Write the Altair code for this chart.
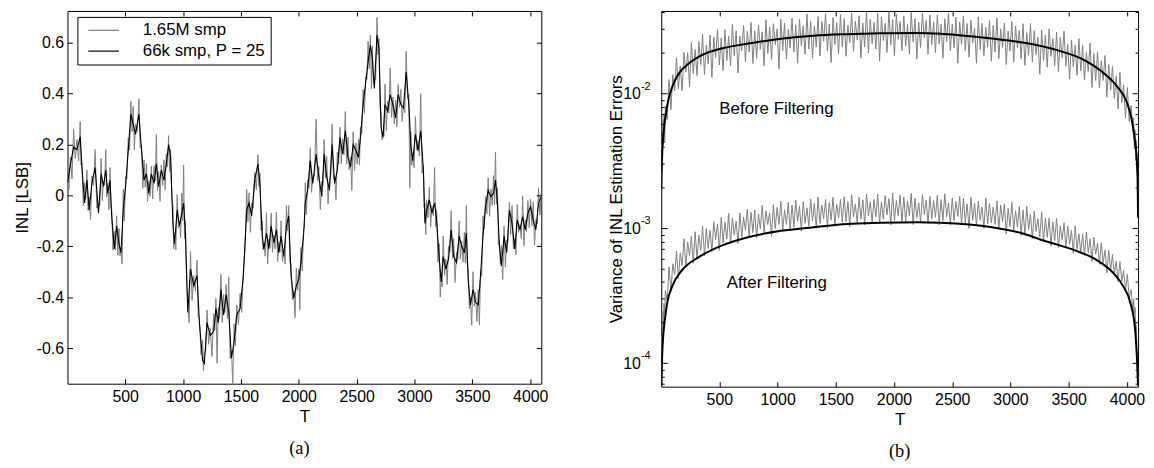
import altair as alt
import pandas as pd

FONT = "Liberation Sans"
SERIF = "Liberation Serif"
GRAY = "#808080"

# ---------------- Panel (a): INL vs T ----------------
LBL_GRAY = "1.65M smp"
LBL_BLACK = "66k smp, P = 25"

t_black_a = [1, 26, 54, 83, 111, 126, 149, 169, 189, 212,
             240, 269, 292, 312, 332, 349, 369, 383, 406, 426,
             446, 463, 483, 503, 526, 549, 569, 589, 618, 641,
             663, 683, 703, 726, 749, 769, 789, 812, 835, 855,
             875, 892, 912, 926, 949, 969, 989, 1005, 1020, 1041,
             1064, 1092, 1121, 1141, 1169, 1184, 1207, 1235, 1264, 1284,
             1304, 1327, 1350, 1372, 1395, 1418, 1441, 1464, 1493, 1521,
             1550, 1570, 1593, 1619, 1647, 1664, 1684, 1698, 1721, 1741,
             1761, 1784, 1807, 1827, 1847, 1870, 1893, 1913, 1933, 1956,
             1979, 1999, 2018, 2042, 2056, 2076, 2099, 2121, 2150, 2173,
             2199, 2219, 2241, 2265, 2288, 2310, 2333, 2356, 2379, 2402,
             2425, 2447, 2470, 2494, 2516, 2533, 2556, 2579, 2599, 2619,
             2636, 2653, 2676, 2693, 2711, 2728, 2745, 2768, 2790, 2814,
             2837, 2859, 2882, 2905, 2928, 2951, 2968, 2985, 3008, 3031,
             3054, 3077, 3090, 3105, 3128, 3151, 3174, 3191, 3214, 3231,
             3248, 3271, 3294, 3317, 3339, 3363, 3386, 3408, 3431, 3448,
             3465, 3483, 3506, 3528, 3551, 3571, 3592, 3614, 3637, 3660,
             3683, 3700, 3717, 3734, 3751, 3774, 3797, 3820, 3843, 3866,
             3888, 3911, 3935, 3957, 3980, 4003, 4026, 4049, 4072, 4096]

inl_black_a = [.05, .12, .19, .18, .23, .11, -.03, .06, -.057, .047,
               .11, -.07, .085, .035, .10, .008, .06, -.08, -.21, -.12,
               -.19, -.225, -.057, .034, .176, .32, .28, .24, .32, .176,
               .06, .085, .008, .085, .047, .124, .034, .10, .06, .124,
               .20, .15, -.11, -.19, -.057, -.12, -.07, -.03, -.15, -.46,
               -.29, -.355, -.315, -.50, -.65, -.66, -.50, -.55, -.535, -.445,
               -.50, -.37, -.47, -.39, -.46, -.64, -.575, -.47, -.445, -.315,
               -.057, -.03, -.08, .06, .124, .047, -.16, -.21, -.148, -.21,
               -.12, -.186, -.135, -.225, -.16, -.24, -.12, -.08, -.315, -.405,
               -.355, -.33, -.264, -.15, -.03, .02, .137, .047, .163, .074,
               -.004, .163, .074, .02, .20, .047, .10, .228, .163, .254,
               .15, .111, .20, .176, .15, .228, .357, .448, .525, .59,
               .538, .42, .63, .577, .267, .228, .357, .331, .396, .357,
               .305, .396, .357, .344, .486, .357, .20, .137, .24, .176,
               .254, .10, -.11, -.057, -.018, -.07, -.03, -.096, -.25, -.34,
               -.24, -.29, -.25, -.135, -.24, -.264, -.16, -.20, -.225, -.148,
               -.34, -.43, -.37, -.42, -.43, -.315, -.16, -.044, .02, -.005,
               .008, .06, -.03, -.20, -.277, -.16, -.225, -.057, -.11, -.21,
               -.096, -.135, -.083, -.135, -.07, -.044, -.096, -.135, -.03, -.005]

# gray trace, read at the black sample positions ...
inl_gray_at_a = [.10, .15, .26, .22, .29, .13, .05, .10, -.007, .077,
                 .18, -.03, .145, .055, .18, .048, .11, -.05, -.14, -.08,
                 -.13, -.205, .023, .074, .226, .37, .35, .28, .38, .196,
                 .14, .125, .058, .115, .117, .24, .094, .12, .14, .164,
                 .235, .18, -.04, -.15, .003, -.10, .01, .12, -.10, -.43,
                 -.22, -.315, -.255, -.48, -.57, -.62, -.45, -.52, -.465, -.405,
                 -.44, -.31, -.39, -.35, -.32, -.61, -.505, -.43, -.385, -.295,
                 .023, .01, -.03, .09, .16, .087, -.10, -.19, -.068, -.17,
                 -.07, -.156, -.065, -.185, -.10, -.22, -.04, -.04, -.265, -.375,
                 -.285, -.29, -.204, -.13, .05, .06, .187, .077, .30, .114,
                 .056, .22, .154, .06, .28, .077, .17, .268, .223, .33,
                 .23, .151, .25, .206, .22, .268, .417, .468, .605, .63,
                 .588, .45, .70, .617, .327, .248, .437, .371, .50, .387,
                 .375, .436, .417, .364, .566, .397, .25, .167, .31, .216,
                 .40, .12, -.03, -.017, .032, -.04, .11, -.056, -.19, -.32,
                 -.16, -.25, -.20, -.06, -.17, -.224, -.10, -.18, -.145, -.04,
                 -.29, -.40, -.30, -.38, -.37, -.295, -.08, -.004, .07, .025,
                 .078, .17, .03, -.18, -.197, -.12, -.175, -.027, -.04, -.17,
                 -.036, -.115, -.003, -.095, -.02, -.014, -.026, -.095, .03, .015]

# ... and half-way between consecutive black samples
inl_gray_mid_a = [.025, .065, .145, .135, .12, -.04, -.015, -.06, -.095, .04,
                  -.05, -.04, -.02, .04, -.006, -.056, -.05, -.215, -.215, -.235,
                  -.2375, -.27, -.10, .065, .178, .25, .18, .25, .188, .028,
                  .0325, -.0235, -.0035, -.014, .0555, .019, -.023, .04, .022, .112,
                  .095, -.01, -.21, -.2135, -.1285, -.165, -.10, -.17, -.335, -.50,
                  -.4125, -.375, -.4775, -.625, -.69, -.61, -.585, -.6325, -.53, -.66,
                  -.485, -.50, -.46, -.485, -.64, -.74, -.5925, -.5075, -.46, -.216,
                  -.1035, -.145, -.05, .022, .0355, -.1365, -.215, -.239, -.269, -.205,
                  -.223, -.2105, -.26, -.2225, -.26, -.27, -.14, -.2675, -.41, -.48,
                  -.3725, -.45, -.297, -.13, -.075, .0285, .012, .075, .0585, -.055,
                  .0395, .0685, -.033, .08, .0635, -.0165, .124, .1255, .1585, .122,
                  .1005, .02, .098, .123, .119, .2425, .3225, .4565, .4975, .42,
                  .439, .455, .5535, .342, .2175, .2325, .254, .3235, .3065, .281,
                  .2705, .3465, .2905, .325, .3815, .03, .1185, .1085, .178, .155,
                  .087, -.045, -.1535, -.0875, -.124, -.08, -.123, -.263, -.40, -.36,
                  -.315, -.35, -.2225, -.2475, -.342, -.252, -.25, -.2625, -.2665, -.274,
                  -.445, -.51, -.435, -.495, -.51, -.3175, -.132, -.072, -.0825, -.0385,
                  -.036, -.035, -.195, -.2685, -.33, -.2825, -.181, -.1535, -.21, -.233,
                  -.1455, -.169, -.199, -.1425, -.127, -.12, -.1955, -.1125, -.0775]

x_ticks = [500, 1000, 1500, 2000, 2500, 3000, 3500, 4000]
y_ticks_a = [-0.6, -0.4, -0.2, 0.0, 0.2, 0.4, 0.6]

# ---------------- Panel (b): variance (log scale) ----------------
t_upper_black = [1, 4, 8, 12, 16, 25, 40, 60, 95, 150, 240, 350, 520, 750, 1030,
                 1310, 1600, 1880, 2190, 2400, 2560, 2840, 3120, 3400, 3630, 3800,
                 3915, 4000, 4040, 4070, 4085, 4092, 4096]
var_upper_black_e3 = [2.0, 2.8, 3.5, 4.1, 4.6, 5.6, 7.0, 8.8, 11.2, 14.0, 16.8, 19.3,
                      21.6, 23.5, 25.5, 26.9, 27.6, 28.0, 28.2, 27.8, 27.1, 25.6, 23.8,
                      21.0, 17.8, 14.2, 11.3, 8.6, 6.5, 4.4, 3.2, 2.3, 1.2]

t_lower_black = [1, 4, 8, 18, 32, 52, 94, 180, 320, 520, 745, 1030, 1310, 1600,
                 1880, 2200, 2400, 2840, 3120, 3290, 3550, 3745, 3890, 3970, 4030,
                 4070, 4086, 4096]
var_lower_black_e4 = [0.68, 0.85, 1.1, 1.6, 2.1, 2.8, 3.7, 4.9, 6.1, 7.45, 8.6, 9.6,
                      10.2, 10.8, 11.0, 11.1, 11.0, 10.2, 9.1, 8.1, 6.9, 5.8, 4.6,
                      3.7, 2.8, 1.8, 1.1, 0.68]

# sample index grid of the two noisy (gray) traces
t_gray_b = ([1, 4, 8, 12, 16, 20, 25, 30] + list(range(36, 4060, 16))
            + [4058, 4064, 4070, 4076, 4081, 4085, 4089, 4092, 4094, 4096])

var_upper_gray_e3 = [
    2.6, 2.1, 4.2, 2.7, 6.4, 4.2, 7.1, 4.3,
    8.1, 6.4, 12.7, 7.6, 13.8, 10.5, 18.5, 10.8, 16.0, 10.5, 20.2, 14.4, 20.1, 11.2, 23.9, 14.1,
    21.2, 13.6, 24.3, 16.4, 27.5, 13.8, 22.9, 16.6, 27.1, 13.2, 26.2, 18.5, 29.7, 16.3, 25.9, 14.8,
    29.8, 17.6, 26.6, 16.1, 32.6, 19.1, 29.2, 14.2, 26.7, 20.8, 32.0, 17.2, 29.0, 20.3, 33.7, 16.7,
    29.2, 18.2, 32.3, 21.3, 28.7, 16.1, 35.3, 19.8, 31.2, 17.9, 33.0, 23.1, 30.2, 15.2, 35.6, 20.9,
    33.3, 18.0, 29.9, 21.7, 36.3, 20.3, 32.4, 16.8, 35.8, 22.7, 31.8, 19.6, 38.8, 21.4, 34.3, 18.3,
    31.7, 22.1, 37.3, 19.0, 34.2, 24.5, 39.2, 20.7, 32.8, 17.0, 36.8, 23.1, 33.6, 19.8, 38.6, 22.1,
    36.1, 18.9, 32.2, 23.9, 39.5, 20.6, 34.5, 25.0, 37.8, 18.3, 33.4, 22.2, 40.6, 20.0, 35.6, 23.4,
    33.7, 21.4, 39.3, 17.4, 37.1, 24.7, 33.2, 20.2, 40.5, 23.0, 35.4, 19.1, 38.8, 25.3, 34.3, 20.8,
    37.7, 22.5, 32.7, 19.7, 40.0, 24.2, 36.0, 18.0, 33.8, 22.0, 39.4, 25.9, 34.9, 19.7, 38.3, 23.1,
    34.0, 20.1, 38.4, 23.4, 32.7, 18.3, 35.9, 24.3, 39.6, 20.8, 32.8, 21.8, 36.9, 16.8, 34.0, 23.2,
    37.7, 20.9, 33.1, 18.6, 35.0, 23.8, 30.5, 16.8, 37.1, 21.3, 33.2, 19.1, 31.0, 22.1, 34.8, 17.4,
    32.1, 20.3, 36.4, 18.1, 30.1, 22.0, 33.4, 16.4, 29.1, 20.7, 34.3, 17.1, 31.6, 21.8, 29.4, 18.2,
    33.0, 16.2, 28.3, 19.2, 33.1, 17.1, 29.3, 19.5, 26.1, 13.9, 29.7, 17.6, 27.2, 15.7, 30.2, 18.9,
    25.6, 16.1, 28.6, 14.6, 26.0, 18.4, 29.1, 16.0, 23.2, 12.8, 25.0, 15.9, 22.8, 13.7, 25.5, 14.7,
    22.7, 12.6, 20.1, 14.6, 23.7, 11.1, 19.8, 12.5, 20.4, 11.0, 17.5, 12.5, 19.2, 9.4, 16.4, 10.6,
    15.9, 9.2, 13.5, 7.7, 14.4, 8.6, 11.6, 6.6, 11.1, 6.2, 8.2, 5.2,
    6.6, 3.9, 5.4, 3.2, 4.5, 2.6, 3.6, 2.0, 2.1, 1.3]

var_lower_gray_e4 = [
    1.05, 0.87, 1.6, 1.4, 2.43, 1.87, 2.78, 2.3,
    3.45, 2.91, 5.18, 3.43, 5.47, 4.54, 6.79, 4.23, 6.58, 5.29, 8.38, 5.2, 7.92, 6.27, 8.74, 5.52,
    9.44, 6.0, 8.91, 6.88, 10.4, 6.24, 10.0, 7.1, 9.66, 6.76, 11.2, 8.24, 10.8, 6.86, 12.1, 7.8,
    11.1, 8.32, 12.9, 7.69, 11.9, 8.96, 11.3, 7.74, 13.0, 8.63, 12.1, 9.69, 13.9, 8.65, 13.2, 9.28,
    13.7, 8.5, 12.8, 9.9, 14.8, 9.28, 13.5, 10.7, 13.0, 8.74, 15.0, 9.96, 14.3, 10.7, 15.9, 9.62,
    13.7, 10.7, 15.6, 9.58, 14.9, 10.2, 16.2, 11.3, 14.6, 9.55, 15.8, 10.9, 14.2, 10.4, 16.5, 11.4,
    15.3, 10.0, 17.1, 10.9, 14.9, 11.8, 16.4, 10.0, 15.5, 11.5, 17.0, 10.6, 15.1, 11.9, 16.4, 11.1,
    17.2, 11.2, 15.8, 10.3, 17.8, 12.2, 15.2, 10.9, 17.0, 11.7, 16.3, 10.6, 18.0, 12.4, 15.7, 11.1,
    16.4, 12.2, 17.9, 10.8, 15.7, 11.7, 17.5, 12.6, 16.6, 10.6, 18.3, 11.5, 16.1, 12.4, 17.7, 11.1,
    17.1, 11.3, 16.0, 12.4, 18.2, 10.7, 16.7, 12.0, 15.5, 11.1, 17.8, 12.7, 16.2, 10.9, 17.3, 11.8,
    16.1, 12.1, 17.6, 10.6, 16.4, 11.4, 18.1, 12.2, 15.4, 10.6, 16.8, 11.4, 15.9, 12.3, 17.3, 10.7,
    16.8, 11.0, 15.2, 10.0, 17.0, 11.5, 15.4, 10.4, 15.9, 11.5, 14.4, 10.0, 16.8, 10.8, 15.3, 11.0,
    14.4, 10.7, 16.0, 9.75, 14.9, 11.2, 15.2, 9.12, 14.1, 10.3, 15.6, 9.64, 13.5, 10.2, 14.6, 8.83,
    13.7, 9.05, 14.6, 9.79, 12.7, 8.35, 13.4, 9.52, 11.8, 8.68, 13.2, 7.99, 11.9, 8.59, 11.9, 7.41,
    11.2, 8.11, 11.9, 7.2, 10.4, 8.23, 11.0, 7.2, 10.4, 7.61, 9.66, 6.53, 10.4, 7.02, 9.11, 6.6,
    9.1, 6.27, 9.4, 6.63, 8.36, 5.69, 8.57, 6.44, 7.77, 5.42, 7.81, 5.56, 6.93, 4.69, 6.9, 4.85,
    6.39, 4.55, 5.72, 4.03, 5.67, 4.06, 4.88, 3.43, 4.55, 3.06, 3.51, 2.4,
    3.0, 2.3, 2.6, 1.8, 1.9, 1.3, 1.2, 0.9, 0.85, 0.7]

y_major_b = [1e-4, 1e-3, 1e-2]
y_exponents_b = ["-4", "-3", "-2"]
y_minor_b = [7e-5, 8e-5, 9e-5,
             2e-4, 3e-4, 4e-4, 5e-4, 6e-4, 7e-4, 8e-4, 9e-4,
             2e-3, 3e-3, 4e-3, 5e-3, 6e-3, 7e-3, 8e-3, 9e-3,
             2e-2, 3e-2, 4e-2]

ann_t = [500, 563]
ann_v = [7.7e-3, 3.96e-4]
ann_text = ["Before Filtering", "After Filtering"]

# ---------------- tables ----------------
df_black_a = pd.DataFrame({"T": t_black_a, "INL": inl_black_a, "series": LBL_BLACK})
t_mid_a = [(a + b) / 2 for a, b in zip(t_black_a[:-1], t_black_a[1:])]
rows = [(t, v) for t, v in zip(t_black_a, inl_gray_at_a)] + \
       [(t, v) for t, v in zip(t_mid_a, inl_gray_mid_a)]
df_gray_a = pd.DataFrame(rows, columns=["T", "INL"]).sort_values("T")
df_gray_a["series"] = LBL_GRAY

n_u = min(len(t_gray_b), len(var_upper_gray_e3))
n_l = min(len(t_gray_b), len(var_lower_gray_e4))
df_ub = pd.DataFrame({"T": t_upper_black, "V": [v * 1e-3 for v in var_upper_black_e3]})
df_lb = pd.DataFrame({"T": t_lower_black, "V": [v * 1e-4 for v in var_lower_black_e4]})
df_ug = pd.DataFrame({"T": t_gray_b[:n_u], "V": [v * 1e-3 for v in var_upper_gray_e3[:n_u]]})
df_lg = pd.DataFrame({"T": t_gray_b[:n_l], "V": [v * 1e-4 for v in var_lower_gray_e4[:n_l]]})
df_ann = pd.DataFrame({"T": ann_t, "V": ann_v, "label": ann_text})
df_exp = pd.DataFrame({"T": [1] * len(y_major_b), "V": y_major_b, "label": y_exponents_b})

# ---------------- sizes & scales ----------------
W_A, H_A = 478, 376
W_B, H_B = 481, 379

xs_a = alt.Scale(domain=[1, 4096], nice=False, zero=False)
ys_a = alt.Scale(domain=[-0.74, 0.725], nice=False, zero=False)
xs_b = alt.Scale(domain=[1, 4096], nice=False, zero=False)
ys_b = alt.Scale(type="log", domain=[6.7e-5, 0.041], nice=False)


def tick_axis(orient, offset, values, size):
    return alt.Axis(orient=orient, offset=offset, values=values, labels=False,
                    ticks=True, tickSize=size, tickColor="black", tickWidth=1,
                    domain=False, grid=False, title=None, zindex=1)


def label_axis(orient, title, values, label_expr, label_padding, title_padding):
    return alt.Axis(orient=orient, title=title, values=values, labelExpr=label_expr,
                    ticks=False, tickSize=0, domain=False, grid=False,
                    labelFont=FONT, labelFontSize=16, labelColor="black",
                    labelPadding=label_padding, titleFont=FONT, titleFontSize=17,
                    titleFontWeight="normal", titleColor="black",
                    titlePadding=title_padding, labelOverlap=False)


x_label_expr = "format(datum.value, 'd')"
y_label_expr_a = ("datum.value == 0 ? '0' : (datum.value < 0 ? '-' + format(-datum.value, '.1f')"
                  " : format(datum.value, '.1f'))")
y_label_expr_b = "'10'"

color_scale = alt.Scale(domain=[LBL_GRAY, LBL_BLACK], range=[GRAY, "#000000"])
legend_a = alt.Legend(title=None, orient="none", legendX=10, legendY=6,
                      strokeColor="black", fillColor="white", padding=5,
                      symbolType="M-2,0H2", symbolSize=240, symbolStrokeWidth=1.2,
                      symbolOffset=13, labelOffset=31, rowPadding=3,
                      labelFont=FONT, labelFontSize=17, labelColor="black")

# ---------------- panel (a) ----------------
gray_a = alt.Chart(df_gray_a).mark_line(strokeWidth=1, clip=True).encode(
    x=alt.X("T:Q", scale=xs_a,
            axis=label_axis("bottom", "T", x_ticks, x_label_expr, 5, 4)),
    y=alt.Y("INL:Q", scale=ys_a,
            axis=label_axis("left", "INL [LSB]", y_ticks_a, y_label_expr_a, 4, 5)),
    color=alt.Color("series:N", scale=color_scale, legend=legend_a),
)
black_a = alt.Chart(df_black_a).mark_line(strokeWidth=1.1, clip=True).encode(
    x=alt.X("T:Q", scale=xs_a, axis=tick_axis("top", -H_A, x_ticks, 5)),
    y=alt.Y("INL:Q", scale=ys_a, axis=tick_axis("right", -W_A, y_ticks_a, 5)),
    color=alt.Color("series:N", scale=color_scale, legend=legend_a),
)
frame_a = alt.Chart(df_black_a).mark_line(strokeOpacity=0).encode(
    x=alt.X("T:Q", scale=xs_a, axis=tick_axis("bottom", -H_A, x_ticks, 5)),
    y=alt.Y("INL:Q", scale=ys_a, axis=tick_axis("left", -W_A, y_ticks_a, 5)),
)
panel_a = alt.layer(gray_a, black_a, frame_a).resolve_axis(
    x="independent", y="independent"
).properties(
    width=W_A, height=H_A,
    title=alt.TitleParams("(a)", orient="bottom", font=SERIF, fontSize=18.5,
                          fontWeight="normal", color="black", offset=15,
                          anchor="middle", frame="group", dx=-5),
)

# ---------------- panel (b) ----------------
ug = alt.Chart(df_ug).mark_line(strokeWidth=1, color=GRAY, clip=True).encode(
    x=alt.X("T:Q", scale=xs_b,
            axis=label_axis("bottom", "T", x_ticks, x_label_expr, 5, 4)),
    y=alt.Y("V:Q", scale=ys_b,
            axis=label_axis("left", "Variance of INL Estimation Errors", y_major_b,
                            y_label_expr_b, 21, -3)),
)
lg = alt.Chart(df_lg).mark_line(strokeWidth=1, color=GRAY, clip=True).encode(
    x=alt.X("T:Q", scale=xs_b, axis=tick_axis("top", -H_B, x_ticks, 5)),
    y=alt.Y("V:Q", scale=ys_b, axis=tick_axis("right", -W_B, y_major_b, 6)),
)
ub = alt.Chart(df_ub).mark_line(strokeWidth=2, color="black", clip=True,
                                 interpolate="monotone").encode(
    x=alt.X("T:Q", scale=xs_b, axis=tick_axis("bottom", -H_B, x_ticks, 5)),
    y=alt.Y("V:Q", scale=ys_b, axis=tick_axis("left", -W_B, y_major_b, 6)),
)
lb = alt.Chart(df_lb).mark_line(strokeWidth=2, color="black", clip=True,
                                 interpolate="monotone").encode(
    x=alt.X("T:Q", scale=xs_b, axis=None),
    y=alt.Y("V:Q", scale=ys_b, axis=tick_axis("right", -W_B, y_minor_b, 3)),
)
ann = alt.Chart(df_ann).mark_text(align="left", baseline="middle", font=FONT,
                                   fontSize=17, color="black").encode(
    x=alt.X("T:Q", scale=xs_b, axis=None),
    y=alt.Y("V:Q", scale=ys_b, axis=tick_axis("left", -W_B, y_minor_b, 3)),
    text="label:N",
)
expo = alt.Chart(df_exp).mark_text(align="left", baseline="middle", font=FONT,
                                    fontSize=11, color="black", dx=-20.5, dy=-7).encode(
    x=alt.X("T:Q", scale=xs_b, axis=None),
    y=alt.Y("V:Q", scale=ys_b, axis=None),
    text="label:N",
)
panel_b = alt.layer(ug, lg, ub, lb, ann, expo).resolve_axis(
    x="independent", y="independent"
).properties(
    width=W_B, height=H_B,
    title=alt.TitleParams("(b)", orient="bottom", font=SERIF, fontSize=18.5,
                          fontWeight="normal", color="black", offset=15,
                          anchor="middle", frame="group"),
)

chart = alt.hconcat(panel_a, panel_b, spacing=58).properties(
    padding={"left": 4, "top": 0, "right": 0, "bottom": 0},
    background="white",
).configure_view(stroke="black", strokeWidth=1)

chart.save("out.html", embed_options={"renderer": "svg", "actions": False})
